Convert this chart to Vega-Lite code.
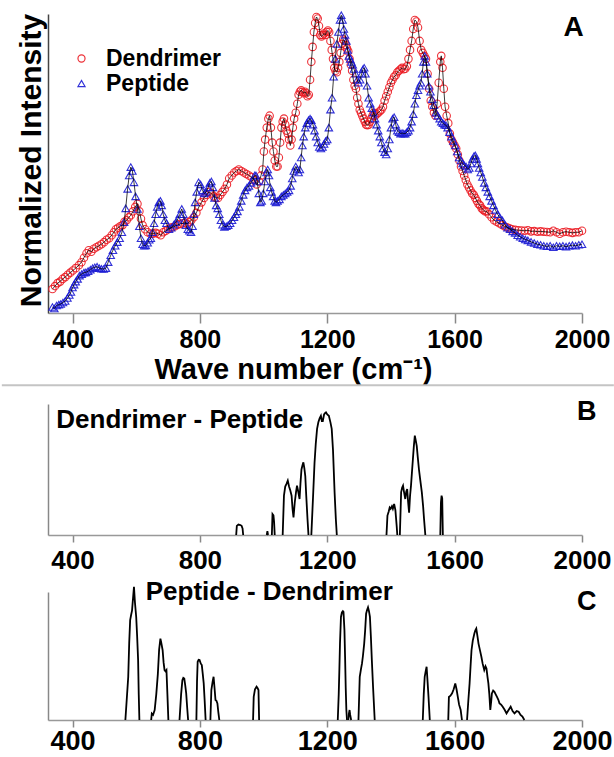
{
"$schema": "https://vega.github.io/schema/vega-lite/v6.json",
"padding": {"left": 0, "top": 9, "right": 0, "bottom": 0},
"background": "white",
"config": {"font": "Liberation Sans", "view": {"stroke": null}, "axis": {"labelFont": "Liberation Sans", "titleFont": "Liberation Sans", "grid": false}},
"datasets": {
"spec": [
{"s":"Dendrimer","x":337,"y":8},{"s":"Dendrimer","x":345,"y":9},{"s":"Dendrimer","x":353,"y":10},{"s":"Dendrimer","x":361,"y":10.5},{"s":"Dendrimer","x":369,"y":11.4},{"s":"Dendrimer","x":377,"y":12},{"s":"Dendrimer","x":385,"y":12.8},{"s":"Dendrimer","x":393,"y":13.5},{"s":"Dendrimer","x":401,"y":14.2},{"s":"Dendrimer","x":410,"y":15},{"s":"Dendrimer","x":420,"y":16},{"s":"Dendrimer","x":428,"y":17},{"s":"Dendrimer","x":436,"y":18.5},{"s":"Dendrimer","x":444,"y":20},{"s":"Dendrimer","x":451,"y":21},{"s":"Dendrimer","x":459,"y":20.5},{"s":"Dendrimer","x":467,"y":21.5},{"s":"Dendrimer","x":475,"y":22},{"s":"Dendrimer","x":483,"y":22.5},{"s":"Dendrimer","x":491,"y":23},{"s":"Dendrimer","x":499,"y":23.7},{"s":"Dendrimer","x":507,"y":24.5},{"s":"Dendrimer","x":515,"y":25},{"s":"Dendrimer","x":523,"y":26},{"s":"Dendrimer","x":530,"y":27},{"s":"Dendrimer","x":536,"y":28},{"s":"Dendrimer","x":543,"y":28.5},{"s":"Dendrimer","x":550,"y":29},{"s":"Dendrimer","x":557,"y":29.4},{"s":"Dendrimer","x":563,"y":30.5},{"s":"Dendrimer","x":570,"y":31},{"s":"Dendrimer","x":577,"y":32},{"s":"Dendrimer","x":583,"y":32.7},{"s":"Dendrimer","x":590,"y":34},{"s":"Dendrimer","x":597,"y":35.5},{"s":"Dendrimer","x":604,"y":36.5},{"s":"Dendrimer","x":610,"y":34},{"s":"Dendrimer","x":615,"y":31.5},{"s":"Dendrimer","x":620,"y":29.4},{"s":"Dendrimer","x":628,"y":28},{"s":"Dendrimer","x":636,"y":27},{"s":"Dendrimer","x":645,"y":26.5},{"s":"Dendrimer","x":653,"y":26.5},{"s":"Dendrimer","x":661,"y":26.8},{"s":"Dendrimer","x":669,"y":26.5},{"s":"Dendrimer","x":677,"y":26},{"s":"Dendrimer","x":685,"y":27},{"s":"Dendrimer","x":693,"y":27.5},{"s":"Dendrimer","x":700,"y":28},{"s":"Dendrimer","x":707,"y":28.5},{"s":"Dendrimer","x":714,"y":28.7},{"s":"Dendrimer","x":722,"y":29},{"s":"Dendrimer","x":730,"y":29.5},{"s":"Dendrimer","x":738,"y":29.8},{"s":"Dendrimer","x":746,"y":30},{"s":"Dendrimer","x":754,"y":30.2},{"s":"Dendrimer","x":760,"y":29.8},{"s":"Dendrimer","x":766,"y":30.4},{"s":"Dendrimer","x":773,"y":31},{"s":"Dendrimer","x":781,"y":32},{"s":"Dendrimer","x":789,"y":33.5},{"s":"Dendrimer","x":797,"y":35.5},{"s":"Dendrimer","x":805,"y":37},{"s":"Dendrimer","x":813,"y":38.5},{"s":"Dendrimer","x":821,"y":39.5},{"s":"Dendrimer","x":829,"y":40.5},{"s":"Dendrimer","x":836,"y":40},{"s":"Dendrimer","x":843,"y":39},{"s":"Dendrimer","x":850,"y":38.5},{"s":"Dendrimer","x":857,"y":38.5},{"s":"Dendrimer","x":864,"y":39.5},{"s":"Dendrimer","x":871,"y":40.5},{"s":"Dendrimer","x":878,"y":41.5},{"s":"Dendrimer","x":885,"y":43},{"s":"Dendrimer","x":892,"y":45},{"s":"Dendrimer","x":900,"y":46},{"s":"Dendrimer","x":908,"y":47},{"s":"Dendrimer","x":915,"y":47.5},{"s":"Dendrimer","x":922,"y":48},{"s":"Dendrimer","x":930,"y":47.5},{"s":"Dendrimer","x":938,"y":47},{"s":"Dendrimer","x":946,"y":46.5},{"s":"Dendrimer","x":954,"y":46},{"s":"Dendrimer","x":962,"y":45.5},{"s":"Dendrimer","x":970,"y":44.5},{"s":"Dendrimer","x":978,"y":43},{"s":"Dendrimer","x":986,"y":44},{"s":"Dendrimer","x":992,"y":46},{"s":"Dendrimer","x":997,"y":48},{"s":"Dendrimer","x":1001,"y":54},{"s":"Dendrimer","x":1005,"y":58},{"s":"Dendrimer","x":1010,"y":62},{"s":"Dendrimer","x":1015,"y":65},{"s":"Dendrimer","x":1019,"y":66},{"s":"Dendrimer","x":1023,"y":62},{"s":"Dendrimer","x":1027,"y":57},{"s":"Dendrimer","x":1031,"y":54},{"s":"Dendrimer","x":1035,"y":51},{"s":"Dendrimer","x":1040,"y":49},{"s":"Dendrimer","x":1044,"y":49},{"s":"Dendrimer","x":1048,"y":52},{"s":"Dendrimer","x":1052,"y":57},{"s":"Dendrimer","x":1056,"y":62},{"s":"Dendrimer","x":1060,"y":64},{"s":"Dendrimer","x":1064,"y":65},{"s":"Dendrimer","x":1068,"y":63},{"s":"Dendrimer","x":1072,"y":61},{"s":"Dendrimer","x":1076,"y":60},{"s":"Dendrimer","x":1080,"y":58},{"s":"Dendrimer","x":1084,"y":56},{"s":"Dendrimer","x":1088,"y":58},{"s":"Dendrimer","x":1092,"y":62},{"s":"Dendrimer","x":1096,"y":65},{"s":"Dendrimer","x":1101,"y":67},{"s":"Dendrimer","x":1106,"y":70},{"s":"Dendrimer","x":1110,"y":73},{"s":"Dendrimer","x":1114,"y":74},{"s":"Dendrimer","x":1118,"y":74.5},{"s":"Dendrimer","x":1122,"y":74},{"s":"Dendrimer","x":1126,"y":73.5},{"s":"Dendrimer","x":1130,"y":74},{"s":"Dendrimer","x":1134,"y":73.5},{"s":"Dendrimer","x":1138,"y":72.5},{"s":"Dendrimer","x":1142,"y":73},{"s":"Dendrimer","x":1146,"y":78},{"s":"Dendrimer","x":1150,"y":84},{"s":"Dendrimer","x":1154,"y":89},{"s":"Dendrimer","x":1158,"y":94},{"s":"Dendrimer","x":1162,"y":97},{"s":"Dendrimer","x":1166,"y":99},{"s":"Dendrimer","x":1170,"y":98.5},{"s":"Dendrimer","x":1174,"y":96},{"s":"Dendrimer","x":1178,"y":93},{"s":"Dendrimer","x":1182,"y":92.5},{"s":"Dendrimer","x":1186,"y":93},{"s":"Dendrimer","x":1190,"y":93.5},{"s":"Dendrimer","x":1194,"y":93},{"s":"Dendrimer","x":1198,"y":94},{"s":"Dendrimer","x":1202,"y":94.5},{"s":"Dendrimer","x":1206,"y":94},{"s":"Dendrimer","x":1210,"y":91},{"s":"Dendrimer","x":1214,"y":88},{"s":"Dendrimer","x":1218,"y":85},{"s":"Dendrimer","x":1222,"y":82},{"s":"Dendrimer","x":1226,"y":81},{"s":"Dendrimer","x":1230,"y":80.5},{"s":"Dendrimer","x":1234,"y":82},{"s":"Dendrimer","x":1238,"y":84},{"s":"Dendrimer","x":1242,"y":87},{"s":"Dendrimer","x":1246,"y":90},{"s":"Dendrimer","x":1250,"y":91.5},{"s":"Dendrimer","x":1254,"y":91},{"s":"Dendrimer","x":1258,"y":89.6},{"s":"Dendrimer","x":1262,"y":88.5},{"s":"Dendrimer","x":1266,"y":87.5},{"s":"Dendrimer","x":1270,"y":85},{"s":"Dendrimer","x":1274,"y":83},{"s":"Dendrimer","x":1278,"y":81},{"s":"Dendrimer","x":1282,"y":78},{"s":"Dendrimer","x":1286,"y":76},{"s":"Dendrimer","x":1290,"y":75},{"s":"Dendrimer","x":1294,"y":72},{"s":"Dendrimer","x":1298,"y":70},{"s":"Dendrimer","x":1302,"y":68},{"s":"Dendrimer","x":1306,"y":67},{"s":"Dendrimer","x":1310,"y":66},{"s":"Dendrimer","x":1314,"y":65},{"s":"Dendrimer","x":1318,"y":64},{"s":"Dendrimer","x":1322,"y":63},{"s":"Dendrimer","x":1326,"y":62.8},{"s":"Dendrimer","x":1330,"y":63},{"s":"Dendrimer","x":1334,"y":64},{"s":"Dendrimer","x":1338,"y":65},{"s":"Dendrimer","x":1342,"y":66},{"s":"Dendrimer","x":1346,"y":67},{"s":"Dendrimer","x":1350,"y":66},{"s":"Dendrimer","x":1355,"y":66.5},{"s":"Dendrimer","x":1360,"y":67},{"s":"Dendrimer","x":1365,"y":67.5},{"s":"Dendrimer","x":1370,"y":68},{"s":"Dendrimer","x":1375,"y":69},{"s":"Dendrimer","x":1380,"y":71},{"s":"Dendrimer","x":1385,"y":72.5},{"s":"Dendrimer","x":1390,"y":74},{"s":"Dendrimer","x":1395,"y":75.5},{"s":"Dendrimer","x":1400,"y":77},{"s":"Dendrimer","x":1405,"y":78},{"s":"Dendrimer","x":1410,"y":79},{"s":"Dendrimer","x":1415,"y":79.5},{"s":"Dendrimer","x":1420,"y":80.5},{"s":"Dendrimer","x":1425,"y":81},{"s":"Dendrimer","x":1430,"y":81.5},{"s":"Dendrimer","x":1435,"y":82},{"s":"Dendrimer","x":1440,"y":81.5},{"s":"Dendrimer","x":1445,"y":81.7},{"s":"Dendrimer","x":1450,"y":82.5},{"s":"Dendrimer","x":1455,"y":85},{"s":"Dendrimer","x":1460,"y":88},{"s":"Dendrimer","x":1465,"y":91},{"s":"Dendrimer","x":1470,"y":95},{"s":"Dendrimer","x":1475,"y":98},{"s":"Dendrimer","x":1480,"y":97.5},{"s":"Dendrimer","x":1485,"y":95.5},{"s":"Dendrimer","x":1490,"y":91},{"s":"Dendrimer","x":1495,"y":88},{"s":"Dendrimer","x":1500,"y":87},{"s":"Dendrimer","x":1505,"y":86},{"s":"Dendrimer","x":1510,"y":85},{"s":"Dendrimer","x":1515,"y":80},{"s":"Dendrimer","x":1520,"y":75},{"s":"Dendrimer","x":1525,"y":71},{"s":"Dendrimer","x":1530,"y":69},{"s":"Dendrimer","x":1535,"y":67},{"s":"Dendrimer","x":1540,"y":66},{"s":"Dendrimer","x":1545,"y":70},{"s":"Dendrimer","x":1550,"y":77},{"s":"Dendrimer","x":1555,"y":84},{"s":"Dendrimer","x":1558,"y":86},{"s":"Dendrimer","x":1562,"y":82},{"s":"Dendrimer","x":1566,"y":75},{"s":"Dendrimer","x":1570,"y":69},{"s":"Dendrimer","x":1575,"y":66},{"s":"Dendrimer","x":1580,"y":63.5},{"s":"Dendrimer","x":1585,"y":60},{"s":"Dendrimer","x":1590,"y":58},{"s":"Dendrimer","x":1595,"y":57},{"s":"Dendrimer","x":1600,"y":56},{"s":"Dendrimer","x":1605,"y":55},{"s":"Dendrimer","x":1610,"y":53},{"s":"Dendrimer","x":1615,"y":51},{"s":"Dendrimer","x":1620,"y":49},{"s":"Dendrimer","x":1625,"y":47.5},{"s":"Dendrimer","x":1630,"y":46},{"s":"Dendrimer","x":1635,"y":44.5},{"s":"Dendrimer","x":1640,"y":43},{"s":"Dendrimer","x":1645,"y":42},{"s":"Dendrimer","x":1650,"y":41},{"s":"Dendrimer","x":1655,"y":40},{"s":"Dendrimer","x":1660,"y":39.5},{"s":"Dendrimer","x":1665,"y":38.5},{"s":"Dendrimer","x":1670,"y":37.5},{"s":"Dendrimer","x":1675,"y":36.5},{"s":"Dendrimer","x":1680,"y":36},{"s":"Dendrimer","x":1685,"y":35},{"s":"Dendrimer","x":1690,"y":34.5},{"s":"Dendrimer","x":1695,"y":34},{"s":"Dendrimer","x":1700,"y":34},{"s":"Dendrimer","x":1708,"y":33},{"s":"Dendrimer","x":1716,"y":32},{"s":"Dendrimer","x":1724,"y":31},{"s":"Dendrimer","x":1732,"y":30.5},{"s":"Dendrimer","x":1740,"y":30},{"s":"Dendrimer","x":1748,"y":29.5},{"s":"Dendrimer","x":1756,"y":29},{"s":"Dendrimer","x":1764,"y":28.7},{"s":"Dendrimer","x":1772,"y":28.3},{"s":"Dendrimer","x":1780,"y":28},{"s":"Dendrimer","x":1790,"y":27.8},{"s":"Dendrimer","x":1800,"y":27.7},{"s":"Dendrimer","x":1810,"y":27.6},{"s":"Dendrimer","x":1820,"y":27.5},{"s":"Dendrimer","x":1830,"y":27.7},{"s":"Dendrimer","x":1840,"y":27.3},{"s":"Dendrimer","x":1850,"y":27.4},{"s":"Dendrimer","x":1860,"y":27.2},{"s":"Dendrimer","x":1870,"y":27.3},{"s":"Dendrimer","x":1880,"y":27.2},{"s":"Dendrimer","x":1890,"y":27.1},{"s":"Dendrimer","x":1900,"y":27},{"s":"Dendrimer","x":1910,"y":27.5},{"s":"Dendrimer","x":1920,"y":27},{"s":"Dendrimer","x":1930,"y":26.5},{"s":"Dendrimer","x":1940,"y":27},{"s":"Dendrimer","x":1950,"y":27.2},{"s":"Dendrimer","x":1960,"y":27},{"s":"Dendrimer","x":1970,"y":26.8},{"s":"Dendrimer","x":1980,"y":27},{"s":"Dendrimer","x":1990,"y":27},{"s":"Dendrimer","x":2000,"y":27.5},
{"s":"Peptide","x":337,"y":2},{"s":"Peptide","x":343,"y":1.5},{"s":"Peptide","x":350,"y":2.5},{"s":"Peptide","x":357,"y":2.8},{"s":"Peptide","x":363,"y":3},{"s":"Peptide","x":370,"y":3.5},{"s":"Peptide","x":377,"y":4},{"s":"Peptide","x":384,"y":5},{"s":"Peptide","x":390,"y":6},{"s":"Peptide","x":395,"y":7},{"s":"Peptide","x":400,"y":8.5},{"s":"Peptide","x":405,"y":9.5},{"s":"Peptide","x":410,"y":10.5},{"s":"Peptide","x":416,"y":11.4},{"s":"Peptide","x":422,"y":12.5},{"s":"Peptide","x":429,"y":13},{"s":"Peptide","x":436,"y":13.5},{"s":"Peptide","x":442,"y":13.6},{"s":"Peptide","x":449,"y":14},{"s":"Peptide","x":456,"y":14.5},{"s":"Peptide","x":463,"y":15},{"s":"Peptide","x":470,"y":15.3},{"s":"Peptide","x":477,"y":15.5},{"s":"Peptide","x":484,"y":15},{"s":"Peptide","x":491,"y":14.8},{"s":"Peptide","x":498,"y":14.7},{"s":"Peptide","x":505,"y":15},{"s":"Peptide","x":512,"y":17},{"s":"Peptide","x":520,"y":19.3},{"s":"Peptide","x":527,"y":21},{"s":"Peptide","x":534,"y":22.5},{"s":"Peptide","x":541,"y":23.7},{"s":"Peptide","x":548,"y":25},{"s":"Peptide","x":555,"y":27},{"s":"Peptide","x":562,"y":30.4},{"s":"Peptide","x":567,"y":35},{"s":"Peptide","x":573,"y":41.5},{"s":"Peptide","x":578,"y":46},{"s":"Peptide","x":583,"y":48.8},{"s":"Peptide","x":588,"y":47.5},{"s":"Peptide","x":593,"y":43.7},{"s":"Peptide","x":598,"y":39},{"s":"Peptide","x":604,"y":34.8},{"s":"Peptide","x":610,"y":29},{"s":"Peptide","x":615,"y":25},{"s":"Peptide","x":620,"y":23},{"s":"Peptide","x":625,"y":22.5},{"s":"Peptide","x":630,"y":22.6},{"s":"Peptide","x":636,"y":23.5},{"s":"Peptide","x":641,"y":24.5},{"s":"Peptide","x":646,"y":25},{"s":"Peptide","x":651,"y":27},{"s":"Peptide","x":656,"y":30},{"s":"Peptide","x":661,"y":33},{"s":"Peptide","x":666,"y":35.5},{"s":"Peptide","x":671,"y":37},{"s":"Peptide","x":676,"y":37.5},{"s":"Peptide","x":680,"y":36},{"s":"Peptide","x":685,"y":33},{"s":"Peptide","x":690,"y":31},{"s":"Peptide","x":695,"y":30},{"s":"Peptide","x":703,"y":28},{"s":"Peptide","x":710,"y":28.5},{"s":"Peptide","x":718,"y":29.5},{"s":"Peptide","x":725,"y":30.4},{"s":"Peptide","x":731,"y":31.5},{"s":"Peptide","x":737,"y":33},{"s":"Peptide","x":743,"y":34.8},{"s":"Peptide","x":748,"y":33},{"s":"Peptide","x":752,"y":31},{"s":"Peptide","x":756,"y":29.4},{"s":"Peptide","x":762,"y":28},{"s":"Peptide","x":767,"y":27.5},{"s":"Peptide","x":772,"y":27},{"s":"Peptide","x":777,"y":29},{"s":"Peptide","x":781,"y":33},{"s":"Peptide","x":785,"y":37},{"s":"Peptide","x":790,"y":40.5},{"s":"Peptide","x":796,"y":43.7},{"s":"Peptide","x":802,"y":43},{"s":"Peptide","x":808,"y":41},{"s":"Peptide","x":814,"y":40},{"s":"Peptide","x":820,"y":40.5},{"s":"Peptide","x":826,"y":42},{"s":"Peptide","x":831,"y":43.5},{"s":"Peptide","x":836,"y":44},{"s":"Peptide","x":841,"y":42},{"s":"Peptide","x":846,"y":38.5},{"s":"Peptide","x":851,"y":36},{"s":"Peptide","x":856,"y":35},{"s":"Peptide","x":861,"y":33},{"s":"Peptide","x":866,"y":31},{"s":"Peptide","x":871,"y":29.5},{"s":"Peptide","x":877,"y":28.8},{"s":"Peptide","x":883,"y":29},{"s":"Peptide","x":889,"y":29.4},{"s":"Peptide","x":895,"y":30},{"s":"Peptide","x":901,"y":31},{"s":"Peptide","x":907,"y":32},{"s":"Peptide","x":913,"y":33},{"s":"Peptide","x":918,"y":34},{"s":"Peptide","x":924,"y":35.5},{"s":"Peptide","x":930,"y":37.5},{"s":"Peptide","x":936,"y":39.5},{"s":"Peptide","x":942,"y":41},{"s":"Peptide","x":948,"y":42},{"s":"Peptide","x":954,"y":42.5},{"s":"Peptide","x":960,"y":43.5},{"s":"Peptide","x":966,"y":44.5},{"s":"Peptide","x":972,"y":46},{"s":"Peptide","x":976,"y":46},{"s":"Peptide","x":980,"y":44},{"s":"Peptide","x":985,"y":40},{"s":"Peptide","x":990,"y":37},{"s":"Peptide","x":994,"y":37.5},{"s":"Peptide","x":999,"y":40},{"s":"Peptide","x":1004,"y":44},{"s":"Peptide","x":1009,"y":47},{"s":"Peptide","x":1013,"y":48},{"s":"Peptide","x":1017,"y":46},{"s":"Peptide","x":1021,"y":42},{"s":"Peptide","x":1025,"y":40.5},{"s":"Peptide","x":1030,"y":39},{"s":"Peptide","x":1035,"y":37.5},{"s":"Peptide","x":1039,"y":37},{"s":"Peptide","x":1044,"y":37.5},{"s":"Peptide","x":1050,"y":38},{"s":"Peptide","x":1056,"y":39},{"s":"Peptide","x":1062,"y":39.5},{"s":"Peptide","x":1068,"y":40},{"s":"Peptide","x":1074,"y":40.5},{"s":"Peptide","x":1080,"y":41},{"s":"Peptide","x":1085,"y":42.5},{"s":"Peptide","x":1090,"y":45},{"s":"Peptide","x":1095,"y":47.5},{"s":"Peptide","x":1101,"y":49},{"s":"Peptide","x":1106,"y":48},{"s":"Peptide","x":1110,"y":47},{"s":"Peptide","x":1114,"y":48},{"s":"Peptide","x":1118,"y":52},{"s":"Peptide","x":1122,"y":56},{"s":"Peptide","x":1126,"y":59},{"s":"Peptide","x":1131,"y":62},{"s":"Peptide","x":1136,"y":63.5},{"s":"Peptide","x":1141,"y":64.5},{"s":"Peptide","x":1146,"y":65},{"s":"Peptide","x":1150,"y":64.5},{"s":"Peptide","x":1155,"y":63},{"s":"Peptide","x":1160,"y":61},{"s":"Peptide","x":1165,"y":59},{"s":"Peptide","x":1170,"y":57},{"s":"Peptide","x":1175,"y":55.5},{"s":"Peptide","x":1180,"y":55},{"s":"Peptide","x":1185,"y":55.5},{"s":"Peptide","x":1190,"y":56.5},{"s":"Peptide","x":1195,"y":57.5},{"s":"Peptide","x":1200,"y":58},{"s":"Peptide","x":1205,"y":62},{"s":"Peptide","x":1210,"y":68},{"s":"Peptide","x":1215,"y":72},{"s":"Peptide","x":1220,"y":79},{"s":"Peptide","x":1225,"y":85},{"s":"Peptide","x":1230,"y":90},{"s":"Peptide","x":1235,"y":94},{"s":"Peptide","x":1240,"y":98},{"s":"Peptide","x":1244,"y":99.6},{"s":"Peptide","x":1248,"y":98},{"s":"Peptide","x":1252,"y":95},{"s":"Peptide","x":1256,"y":93},{"s":"Peptide","x":1260,"y":91},{"s":"Peptide","x":1264,"y":88},{"s":"Peptide","x":1268,"y":86},{"s":"Peptide","x":1272,"y":85},{"s":"Peptide","x":1276,"y":84},{"s":"Peptide","x":1280,"y":83},{"s":"Peptide","x":1284,"y":81.6},{"s":"Peptide","x":1289,"y":80},{"s":"Peptide","x":1294,"y":78},{"s":"Peptide","x":1298,"y":77},{"s":"Peptide","x":1303,"y":78},{"s":"Peptide","x":1308,"y":80},{"s":"Peptide","x":1312,"y":81.5},{"s":"Peptide","x":1316,"y":82},{"s":"Peptide","x":1320,"y":80},{"s":"Peptide","x":1325,"y":76},{"s":"Peptide","x":1330,"y":72},{"s":"Peptide","x":1335,"y":70},{"s":"Peptide","x":1340,"y":68.5},{"s":"Peptide","x":1345,"y":67},{"s":"Peptide","x":1350,"y":65},{"s":"Peptide","x":1355,"y":63},{"s":"Peptide","x":1360,"y":61},{"s":"Peptide","x":1365,"y":59},{"s":"Peptide","x":1370,"y":57},{"s":"Peptide","x":1375,"y":55},{"s":"Peptide","x":1380,"y":53.8},{"s":"Peptide","x":1385,"y":53},{"s":"Peptide","x":1390,"y":55},{"s":"Peptide","x":1395,"y":58},{"s":"Peptide","x":1400,"y":62},{"s":"Peptide","x":1405,"y":65},{"s":"Peptide","x":1410,"y":65.5},{"s":"Peptide","x":1415,"y":63},{"s":"Peptide","x":1420,"y":61},{"s":"Peptide","x":1425,"y":60.5},{"s":"Peptide","x":1430,"y":60},{"s":"Peptide","x":1435,"y":60.2},{"s":"Peptide","x":1440,"y":60},{"s":"Peptide","x":1445,"y":60},{"s":"Peptide","x":1450,"y":60.5},{"s":"Peptide","x":1455,"y":61},{"s":"Peptide","x":1460,"y":62},{"s":"Peptide","x":1465,"y":64},{"s":"Peptide","x":1470,"y":66.5},{"s":"Peptide","x":1475,"y":70},{"s":"Peptide","x":1480,"y":72.8},{"s":"Peptide","x":1485,"y":74.5},{"s":"Peptide","x":1490,"y":76},{"s":"Peptide","x":1494,"y":77},{"s":"Peptide","x":1498,"y":80},{"s":"Peptide","x":1502,"y":84},{"s":"Peptide","x":1506,"y":86},{"s":"Peptide","x":1510,"y":84},{"s":"Peptide","x":1514,"y":80},{"s":"Peptide","x":1519,"y":76},{"s":"Peptide","x":1524,"y":74},{"s":"Peptide","x":1530,"y":71.5},{"s":"Peptide","x":1535,"y":69.5},{"s":"Peptide","x":1541,"y":67},{"s":"Peptide","x":1547,"y":66},{"s":"Peptide","x":1553,"y":65},{"s":"Peptide","x":1558,"y":64},{"s":"Peptide","x":1563,"y":63.5},{"s":"Peptide","x":1568,"y":63},{"s":"Peptide","x":1573,"y":62.8},{"s":"Peptide","x":1578,"y":62},{"s":"Peptide","x":1584,"y":60.5},{"s":"Peptide","x":1590,"y":59},{"s":"Peptide","x":1596,"y":57.5},{"s":"Peptide","x":1602,"y":56},{"s":"Peptide","x":1608,"y":54},{"s":"Peptide","x":1614,"y":52},{"s":"Peptide","x":1620,"y":51},{"s":"Peptide","x":1625,"y":50},{"s":"Peptide","x":1630,"y":49.5},{"s":"Peptide","x":1636,"y":49},{"s":"Peptide","x":1641,"y":48},{"s":"Peptide","x":1646,"y":48.5},{"s":"Peptide","x":1651,"y":50},{"s":"Peptide","x":1656,"y":51.5},{"s":"Peptide","x":1661,"y":52.5},{"s":"Peptide","x":1665,"y":52.7},{"s":"Peptide","x":1669,"y":51.5},{"s":"Peptide","x":1673,"y":50},{"s":"Peptide","x":1677,"y":48.5},{"s":"Peptide","x":1682,"y":47},{"s":"Peptide","x":1687,"y":45.5},{"s":"Peptide","x":1693,"y":43.5},{"s":"Peptide","x":1698,"y":42},{"s":"Peptide","x":1704,"y":40.5},{"s":"Peptide","x":1710,"y":39},{"s":"Peptide","x":1716,"y":37.5},{"s":"Peptide","x":1722,"y":36},{"s":"Peptide","x":1728,"y":34.5},{"s":"Peptide","x":1735,"y":33},{"s":"Peptide","x":1742,"y":32},{"s":"Peptide","x":1750,"y":31},{"s":"Peptide","x":1758,"y":29.5},{"s":"Peptide","x":1766,"y":28.5},{"s":"Peptide","x":1774,"y":28},{"s":"Peptide","x":1782,"y":27.3},{"s":"Peptide","x":1790,"y":26.8},{"s":"Peptide","x":1798,"y":26},{"s":"Peptide","x":1806,"y":25.5},{"s":"Peptide","x":1814,"y":25},{"s":"Peptide","x":1822,"y":24.6},{"s":"Peptide","x":1830,"y":24.3},{"s":"Peptide","x":1840,"y":23.8},{"s":"Peptide","x":1850,"y":23.4},{"s":"Peptide","x":1860,"y":23},{"s":"Peptide","x":1870,"y":22.8},{"s":"Peptide","x":1880,"y":22.5},{"s":"Peptide","x":1890,"y":22.3},{"s":"Peptide","x":1900,"y":22.5},{"s":"Peptide","x":1910,"y":22},{"s":"Peptide","x":1920,"y":22.5},{"s":"Peptide","x":1930,"y":22.3},{"s":"Peptide","x":1940,"y":22.5},{"s":"Peptide","x":1950,"y":22.2},{"s":"Peptide","x":1960,"y":22.5},{"s":"Peptide","x":1970,"y":22.7},{"s":"Peptide","x":1980,"y":22.5},{"s":"Peptide","x":1990,"y":22.8},{"s":"Peptide","x":2000,"y":23}
],
"diffB": [
{"g":1,"x":914,"y":0},{"g":1,"x":916,"y":7},{"g":1,"x":921,"y":8},{"g":1,"x":927,"y":7.6},{"g":1,"x":931,"y":7},{"g":1,"x":934,"y":5},{"g":1,"x":936,"y":0},
{"g":2,"x":1010,"y":0},{"g":2,"x":1012,"y":3},{"g":2,"x":1014,"y":0},
{"g":3,"x":1026,"y":0},{"g":3,"x":1028,"y":16},{"g":3,"x":1031,"y":15},{"g":3,"x":1033,"y":10},{"g":3,"x":1035,"y":0},
{"g":4,"x":1060,"y":0},{"g":4,"x":1064,"y":30},{"g":4,"x":1068,"y":37},{"g":4,"x":1072,"y":39},{"g":4,"x":1076,"y":41.5},{"g":4,"x":1080,"y":37},{"g":4,"x":1084,"y":34},{"g":4,"x":1088,"y":30},{"g":4,"x":1091,"y":20},{"g":4,"x":1094,"y":13.5},{"g":4,"x":1098,"y":25},{"g":4,"x":1102,"y":33},{"g":4,"x":1105,"y":37.7},{"g":4,"x":1109,"y":33},{"g":4,"x":1113,"y":27.5},{"g":4,"x":1116,"y":40},{"g":4,"x":1119,"y":50},{"g":4,"x":1122,"y":53},{"g":4,"x":1125,"y":55.5},{"g":4,"x":1128,"y":51},{"g":4,"x":1131,"y":45},{"g":4,"x":1134,"y":30},{"g":4,"x":1138,"y":12},{"g":4,"x":1141,"y":0},
{"g":5,"x":1150,"y":0},{"g":5,"x":1156,"y":32.6},{"g":5,"x":1160,"y":55},{"g":5,"x":1164,"y":70},{"g":5,"x":1168,"y":81},{"g":5,"x":1172,"y":86},{"g":5,"x":1176,"y":89},{"g":5,"x":1180,"y":91},{"g":5,"x":1183,"y":87},{"g":5,"x":1186,"y":87},{"g":5,"x":1190,"y":92},{"g":5,"x":1193,"y":93},{"g":5,"x":1196,"y":93.6},{"g":5,"x":1200,"y":92},{"g":5,"x":1205,"y":91},{"g":5,"x":1210,"y":86},{"g":5,"x":1214,"y":81},{"g":5,"x":1218,"y":65},{"g":5,"x":1223,"y":32.6},{"g":5,"x":1227,"y":12},{"g":5,"x":1230,"y":0},
{"g":6,"x":1386,"y":0},{"g":6,"x":1389,"y":14.8},{"g":6,"x":1393,"y":18},{"g":6,"x":1396,"y":21},{"g":6,"x":1399,"y":20},{"g":6,"x":1403,"y":22},{"g":6,"x":1406,"y":20},{"g":6,"x":1410,"y":23.7},{"g":6,"x":1414,"y":19},{"g":6,"x":1418,"y":7},{"g":6,"x":1420,"y":0},
{"g":7,"x":1428,"y":0},{"g":7,"x":1432,"y":32.6},{"g":7,"x":1435,"y":36},{"g":7,"x":1438,"y":37.7},{"g":7,"x":1441,"y":33},{"g":7,"x":1445,"y":27.5},{"g":7,"x":1448,"y":33},{"g":7,"x":1451,"y":35},{"g":7,"x":1454,"y":25},{"g":7,"x":1457,"y":17},{"g":7,"x":1460,"y":30},{"g":7,"x":1463,"y":37.7},{"g":7,"x":1466,"y":48},{"g":7,"x":1469,"y":58},{"g":7,"x":1472,"y":68},{"g":7,"x":1475,"y":75.8},{"g":7,"x":1478,"y":72},{"g":7,"x":1481,"y":68},{"g":7,"x":1484,"y":60},{"g":7,"x":1488,"y":50},{"g":7,"x":1492,"y":42},{"g":7,"x":1497,"y":32.6},{"g":7,"x":1501,"y":22},{"g":7,"x":1504,"y":12},{"g":7,"x":1508,"y":0},
{"g":8,"x":1555,"y":0},{"g":8,"x":1557,"y":25},{"g":8,"x":1559,"y":30},{"g":8,"x":1561,"y":28},{"g":8,"x":1563,"y":0}
],
"diffC": [
{"g":1,"x":566,"y":0},{"g":1,"x":570,"y":15},{"g":1,"x":575,"y":33.8},{"g":1,"x":578,"y":60},{"g":1,"x":581,"y":78},{"g":1,"x":584,"y":82},{"g":1,"x":587,"y":85.7},{"g":1,"x":590,"y":95},{"g":1,"x":593,"y":104},{"g":1,"x":596,"y":92},{"g":1,"x":600,"y":80.5},{"g":1,"x":603,"y":65},{"g":1,"x":606,"y":46.8},{"g":1,"x":608,"y":20},{"g":1,"x":610,"y":0},
{"g":2,"x":647,"y":0},{"g":2,"x":649,"y":5},{"g":2,"x":653,"y":4},{"g":2,"x":658,"y":7.8},{"g":2,"x":663,"y":20},{"g":2,"x":668,"y":36},{"g":2,"x":672,"y":55},{"g":2,"x":676,"y":63.6},{"g":2,"x":679,"y":60},{"g":2,"x":683,"y":54.5},{"g":2,"x":686,"y":45},{"g":2,"x":689,"y":39},{"g":2,"x":692,"y":38},{"g":2,"x":695,"y":39},{"g":2,"x":698,"y":20},{"g":2,"x":701,"y":0},
{"g":3,"x":736,"y":0},{"g":3,"x":738,"y":7.8},{"g":3,"x":741,"y":20},{"g":3,"x":745,"y":31},{"g":3,"x":748,"y":33},{"g":3,"x":751,"y":32.5},{"g":3,"x":754,"y":27},{"g":3,"x":757,"y":20.8},{"g":3,"x":760,"y":10},{"g":3,"x":763,"y":0},
{"g":4,"x":789,"y":0},{"g":4,"x":791,"y":30},{"g":4,"x":793,"y":45.5},{"g":4,"x":796,"y":47},{"g":4,"x":799,"y":46.8},{"g":4,"x":803,"y":44},{"g":4,"x":806,"y":42.9},{"g":4,"x":809,"y":36},{"g":4,"x":812,"y":28.6},{"g":4,"x":815,"y":15},{"g":4,"x":818,"y":0},
{"g":5,"x":833,"y":0},{"g":5,"x":836,"y":23.4},{"g":5,"x":840,"y":30},{"g":5,"x":843,"y":33.8},{"g":5,"x":846,"y":25},{"g":5,"x":849,"y":15.6},{"g":5,"x":852,"y":15},{"g":5,"x":855,"y":13},{"g":5,"x":858,"y":6},{"g":5,"x":861,"y":0},
{"g":6,"x":967,"y":0},{"g":6,"x":969,"y":18},{"g":6,"x":973,"y":24},{"g":6,"x":978,"y":26},{"g":6,"x":981,"y":25},{"g":6,"x":984,"y":23.4},{"g":6,"x":986,"y":0},
{"g":7,"x":1233,"y":0},{"g":7,"x":1236,"y":20},{"g":7,"x":1238,"y":39},{"g":7,"x":1240,"y":60},{"g":7,"x":1243,"y":80.5},{"g":7,"x":1246,"y":84},{"g":7,"x":1249,"y":85},{"g":7,"x":1251,"y":84.4},{"g":7,"x":1254,"y":70},{"g":7,"x":1256,"y":49},{"g":7,"x":1258,"y":25},{"g":7,"x":1260,"y":7.8},{"g":7,"x":1262,"y":0},
{"g":8,"x":1266,"y":0},{"g":8,"x":1268,"y":5},{"g":8,"x":1270,"y":7.8},{"g":8,"x":1272,"y":4},{"g":8,"x":1275,"y":0},
{"g":9,"x":1298,"y":0},{"g":9,"x":1302,"y":33.8},{"g":9,"x":1306,"y":40},{"g":9,"x":1309,"y":44},{"g":9,"x":1312,"y":50},{"g":9,"x":1316,"y":59.7},{"g":9,"x":1319,"y":70},{"g":9,"x":1322,"y":83},{"g":9,"x":1325,"y":86},{"g":9,"x":1328,"y":88},{"g":9,"x":1331,"y":85},{"g":9,"x":1334,"y":80.5},{"g":9,"x":1337,"y":65},{"g":9,"x":1340,"y":46.8},{"g":9,"x":1344,"y":25},{"g":9,"x":1349,"y":0},
{"g":10,"x":1500,"y":0},{"g":10,"x":1503,"y":20},{"g":10,"x":1506,"y":33.8},{"g":10,"x":1509,"y":38},{"g":10,"x":1512,"y":41.6},{"g":10,"x":1515,"y":30},{"g":10,"x":1518,"y":18},{"g":10,"x":1522,"y":0},
{"g":11,"x":1580,"y":0},{"g":11,"x":1582,"y":18},{"g":11,"x":1587,"y":19},{"g":11,"x":1592,"y":20.8},{"g":11,"x":1597,"y":24},{"g":11,"x":1602,"y":28.6},{"g":11,"x":1606,"y":24},{"g":11,"x":1610,"y":18},{"g":11,"x":1614,"y":12},{"g":11,"x":1619,"y":7.8},{"g":11,"x":1623,"y":0},
{"g":12,"x":1639,"y":0},{"g":12,"x":1643,"y":15},{"g":12,"x":1647,"y":28.6},{"g":12,"x":1650,"y":42},{"g":12,"x":1653,"y":54.5},{"g":12,"x":1657,"y":62},{"g":12,"x":1662,"y":67.5},{"g":12,"x":1665,"y":70},{"g":12,"x":1668,"y":71.4},{"g":12,"x":1672,"y":65},{"g":12,"x":1675,"y":59.7},{"g":12,"x":1680,"y":54},{"g":12,"x":1684,"y":49.4},{"g":12,"x":1688,"y":44},{"g":12,"x":1693,"y":39},{"g":12,"x":1697,"y":42},{"g":12,"x":1700,"y":40.3},{"g":12,"x":1703,"y":34},{"g":12,"x":1706,"y":28.6},{"g":12,"x":1709,"y":20},{"g":12,"x":1712,"y":7.8},{"g":12,"x":1715,"y":15},{"g":12,"x":1717,"y":20.8},{"g":12,"x":1721,"y":23},{"g":12,"x":1725,"y":22},{"g":12,"x":1729,"y":20},{"g":12,"x":1733,"y":18},{"g":12,"x":1737,"y":16},{"g":12,"x":1741,"y":13},{"g":12,"x":1746,"y":12},{"g":12,"x":1751,"y":10.4},{"g":12,"x":1757,"y":8},{"g":12,"x":1763,"y":5.2},{"g":12,"x":1770,"y":8},{"g":12,"x":1776,"y":10.4},{"g":12,"x":1782,"y":7},{"g":12,"x":1788,"y":5.2},{"g":12,"x":1795,"y":7},{"g":12,"x":1801,"y":6.5},{"g":12,"x":1807,"y":4},{"g":12,"x":1813,"y":2.6},{"g":12,"x":1819,"y":0}
]
},
"bounds": "flush",
"spacing": 91,
"vconcat": [
{
"width": 534, "height": 299,
"layer": [
{
"data": {"name": "spec"},
"mark": {"type": "point", "filled": false, "strokeWidth": 1.1, "size": 56, "opacity": 0.9},
"encoding": {
"x": {"field": "x", "type": "quantitative", "scale": {"domain": [323, 2000], "nice": false, "zero": false},
 "axis": {"values": [400, 800, 1200, 1600, 2000], "format": "d", "title": "Wave  number (cm⁻¹)", "titleFontSize": 29, "titleFontWeight": "bold", "titleColor": "black", "titleX": 245, "titleY": 65, "titleAlign": "center", "titleBaseline": "alphabetic", "labelFontSize": 25, "labelFontWeight": "bold", "labelColor": "black", "labelPadding": 4, "tickSize": 10, "tickColor": "#888", "tickWidth": 1.5, "domainColor": "#999", "domainWidth": 1.5, "labelFlush": false, "labelOverlap": false, "labelBound": false}},
"y": {"field": "y", "type": "quantitative", "scale": {"domain": [0, 100], "nice": false},
 "axis": {"title": "Normalized Intensity", "ticks": false, "labels": false, "domainColor": "#444", "domainWidth": 1.5, "titleFontSize": 30, "titleFontWeight": "bold", "titleColor": "black", "titleX": -8, "titleY": 146, "titleAngle": 270, "titleAlign": "center", "titleBaseline": "alphabetic"}},
"color": {"field": "s", "type": "nominal", "scale": {"domain": ["Dendrimer", "Peptide"], "range": ["#ec1c24", "#1c1cd4"]},
 "legend": {"orient": "none", "legendX": 22, "legendY": 33, "title": null, "labelFontSize": 23, "labelFontWeight": "bold", "labelColor": "black", "labelFont": "Liberation Sans", "symbolSize": 50, "symbolStrokeWidth": 1.2, "rowPadding": 1, "labelOffset": 13, "padding": 0}},
"shape": {"field": "s", "type": "nominal", "scale": {"domain": ["Dendrimer", "Peptide"], "range": ["circle", "triangle-up"]}}
}
},
{
"data": {"name": "spec"},
"mark": {"type": "line", "color": "black", "strokeWidth": 0.9, "opacity": 0.85},
"encoding": {
"x": {"field": "x", "type": "quantitative"},
"y": {"field": "y", "type": "quantitative"},
"detail": {"field": "s", "type": "nominal"}
}
},
{
"data": {"values": [{}]},
"mark": {"type": "text", "text": "A", "fontSize": 28, "fontWeight": "bold", "align": "center", "baseline": "top", "color": "black"},
"encoding": {"x": {"datum": 1974}, "y": {"datum": 100}}
}
]
},
{
"bounds": "flush",
"spacing": 57,
"vconcat": [
{
"width": 534, "height": 131,
"layer": [
{
"data": {"name": "diffB"},
"mark": {"type": "line", "color": "black", "strokeWidth": 1.8},
"encoding": {
"x": {"field": "x", "type": "quantitative", "scale": {"domain": [323, 2000], "nice": false, "zero": false},
 "axis": {"values": [400, 800, 1200, 1600, 2000], "format": "d", "title": null, "labelFontSize": 26, "labelFontWeight": "bold", "labelColor": "black", "labelPadding": 5, "tickSize": 7, "tickColor": "#888", "tickWidth": 1.5, "domainColor": "#999", "domainWidth": 1.5, "labelFlush": false, "labelOverlap": false, "labelBound": false}},
"y": {"field": "y", "type": "quantitative", "scale": {"domain": [0, 100], "nice": false},
 "axis": {"title": null, "ticks": false, "labels": false, "domainColor": "#888", "domainWidth": 1.5}},
"detail": {"field": "g", "type": "nominal"}
}
},
{
"data": {"values": [{}]},
"mark": {"type": "text", "text": "Dendrimer - Peptide", "fontSize": 26, "fontWeight": "bold", "align": "left", "baseline": "alphabetic", "color": "black"},
"encoding": {"x": {"datum": 349}, "y": {"datum": 82}}
},
{
"data": {"values": [{}]},
"mark": {"type": "text", "text": "B", "fontSize": 27, "fontWeight": "bold", "align": "center", "baseline": "top", "color": "black"},
"encoding": {"x": {"datum": 2015}, "y": {"datum": 104}}
},
{
"data": {"values": [{}]},
"mark": {"type": "rule", "color": "#c4c4c4", "strokeWidth": 2},
"encoding": {"x": {"datum": 178}, "x2": {"datum": 2100}, "y": {"datum": 114.3}}
}
]
},
{
"width": 534, "height": 128,
"layer": [
{
"data": {"name": "diffC"},
"mark": {"type": "line", "color": "black", "strokeWidth": 1.8},
"encoding": {
"x": {"field": "x", "type": "quantitative", "scale": {"domain": [323, 2000], "nice": false, "zero": false},
 "axis": {"values": [400, 800, 1200, 1600, 2000], "format": "d", "title": null, "labelFontSize": 27, "labelFontWeight": "bold", "labelColor": "black", "labelPadding": 1, "tickSize": 7, "tickColor": "#888", "tickWidth": 1.5, "domainColor": "#999", "domainWidth": 1.5, "labelFlush": false, "labelOverlap": false, "labelBound": false}},
"y": {"field": "y", "type": "quantitative", "scale": {"domain": [0, 100], "nice": false},
 "axis": {"title": null, "ticks": false, "labels": false, "domainColor": "#888", "domainWidth": 1.5}},
"detail": {"field": "g", "type": "nominal"}
}
},
{
"data": {"values": [{}]},
"mark": {"type": "text", "text": "Peptide - Dendrimer", "fontSize": 26, "fontWeight": "bold", "align": "left", "baseline": "alphabetic", "color": "black"},
"encoding": {"x": {"datum": 630}, "y": {"datum": 94}}
},
{
"data": {"values": [{}]},
"mark": {"type": "text", "text": "C", "fontSize": 27, "fontWeight": "bold", "align": "center", "baseline": "top", "color": "black"},
"encoding": {"x": {"datum": 2015}, "y": {"datum": 102}}
}
]
}
]
}
]
}
